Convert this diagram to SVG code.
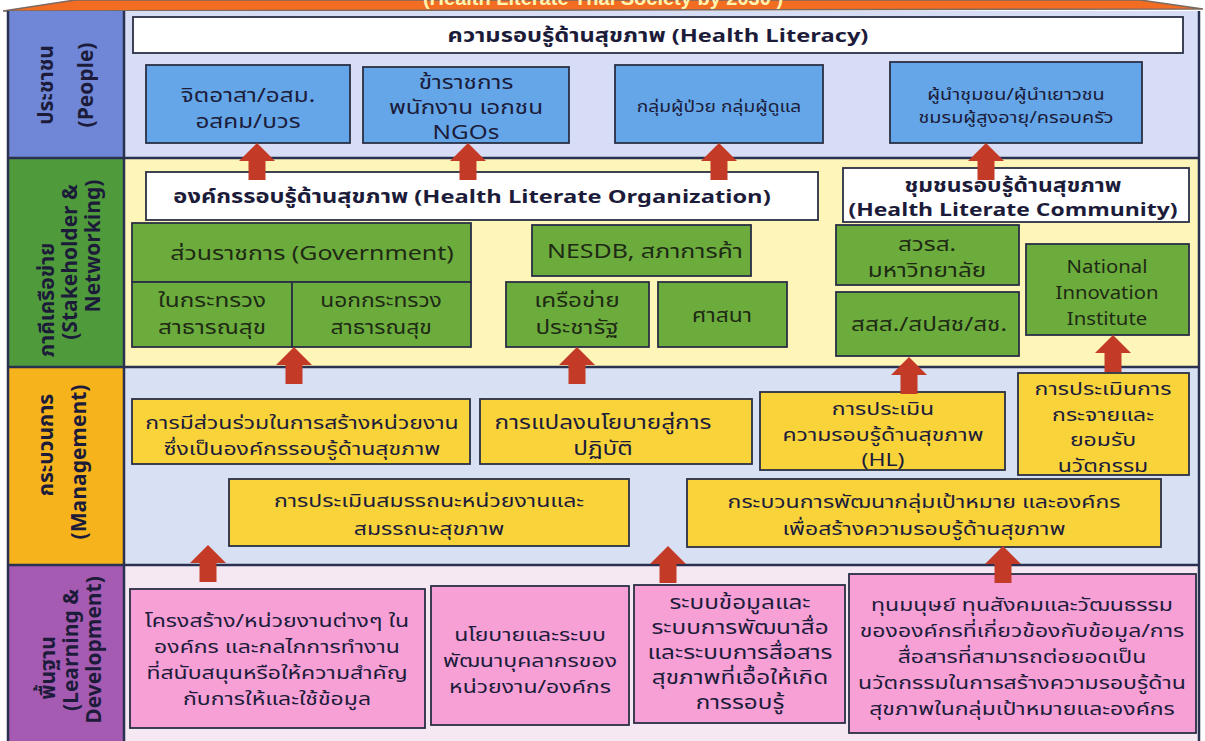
<svg xmlns="http://www.w3.org/2000/svg" width="1205" height="741" viewBox="0 0 1205 741">
<style>
text{font-family:"Noto Sans Thai","Tahoma","DejaVu Sans","Noto Sans",sans-serif;fill:#1c1c3a;text-anchor:middle}
.lab{font-weight:bold;font-size:21px;fill:#1c1c3a}
.hdr{font-weight:bold;font-size:18.5px}
.box{stroke:#2a2f45;stroke-width:1.8}
.wb{fill:#ffffff}
.bb{fill:#64a6e8}
.gb{fill:#6cac3d}
.yb{fill:#f8d33a}
.pb{fill:#f6a0d6}
.b19{font-size:19px}
.b15{font-size:15px}
.g{font-size:19px;fill:#1e2a14}
.y18{font-size:18px}
.p18{font-size:18px}
.arr{fill:#c33b26}
</style>
<defs>
<path id="up" d="M0,0 L-18,18 L-8.5,18 L-8.5,37 L8.5,37 L8.5,18 L18,18 Z"/>
</defs>
<!-- roof -->
<polygon points="3,11 75,0 1140,0 1203,9" fill="#f26c22" stroke="#7a6a60" stroke-width="1.5"/>
<text x="603" y="5" style="font-family:'Liberation Sans','DejaVu Sans',sans-serif;font-weight:bold;font-size:20px;fill:#fff4b0">(Health Literate Thai Society by 2030 )</text>
<!-- rows backgrounds -->
<g id="rows">
<rect x="8" y="11" width="116" height="147" fill="#6f87d6"/>
<rect x="124" y="11" width="1075" height="147" fill="#d6ddf5"/>
<rect x="8" y="158" width="116" height="209" fill="#4f9b3b"/>
<rect x="124" y="158" width="1075" height="209" fill="#fdf6b8"/>
<rect x="8" y="367" width="116" height="198" fill="#f6b31c"/>
<rect x="124" y="367" width="1075" height="198" fill="#d8e0f3"/>
<rect x="8" y="565" width="116" height="178" fill="#a55bb2"/>
<rect x="124" y="565" width="1075" height="178" fill="#f5e8f3"/>
<g stroke="#2a3050" stroke-width="2.5" fill="none">
<line x1="8" y1="158" x2="1199" y2="158"/>
<line x1="8" y1="367" x2="1199" y2="367"/>
<line x1="8" y1="565" x2="1199" y2="565"/>
<line x1="124" y1="11" x2="124" y2="741"/>
<line x1="8" y1="11" x2="8" y2="741"/>
<line x1="1199" y1="11" x2="1199" y2="741"/>
</g>
</g>
<!-- row labels -->
<g id="label-people"><text class="lab" transform="rotate(-90)"><tspan x="-85" y="53">ประชาชน</tspan><tspan x="-85" y="93">(People)</tspan></text></g>
<g id="label-stakeholder"><text class="lab" transform="rotate(-90)"><tspan x="-300" y="54">ภาคีเครือข่าย</tspan><tspan x="-262" y="77">(Stakeholder &amp;</tspan><tspan x="-246" y="100">Networking)</tspan></text></g>
<g id="label-management"><text class="lab" transform="rotate(-90)"><tspan x="-445" y="53">กระบวนการ</tspan><tspan x="-462" y="86">(Management)</tspan></text></g>
<g id="label-learning"><text class="lab" transform="rotate(-90)"><tspan x="-668" y="55">พื้นฐาน</tspan><tspan x="-650" y="78">(Learning &amp;</tspan><tspan x="-650" y="101">Development)</tspan></text></g>

<!-- People -->
<g id="hl"><rect class="box wb" x="133" y="17" width="1050" height="36"/><text class="hdr" transform="matrix(1.28 0 0 1 658 0)" y="42">ความรอบรู้ด้านสุขภาพ (Health Literacy)</text></g>
<g id="p1"><rect class="box bb" x="146" y="65" width="204" height="78"/><text class="b19" transform="matrix(1.28 0 0 1 248 0)"><tspan x="0" y="102">จิตอาสา/อสม.</tspan><tspan x="0" y="128">อสคม/บวร</tspan></text></g>
<g id="p2"><rect class="box bb" x="363" y="67" width="206" height="76"/><text class="b19" transform="matrix(1.28 0 0 1 466 0)"><tspan x="0" y="89">ข้าราชการ</tspan><tspan x="0" y="114">พนักงาน เอกชน</tspan><tspan x="0" y="139">NGOs</tspan></text></g>
<g id="p3"><rect class="box bb" x="615" y="65" width="208" height="78"/><text class="b15" transform="matrix(1.28 0 0 1 719 0)" y="112">กลุ่มผู้ป่วย กลุ่มผู้ดูแล</text></g>
<g id="p4"><rect class="box bb" x="890" y="62" width="252" height="81"/><text class="b15" transform="matrix(1.28 0 0 1 1016 0)" style="font-size:15.5px"><tspan x="0" y="100">ผู้นำชุมชน/ผู้นำเยาวชน</tspan><tspan x="0" y="123">ชมรมผู้สูงอายุ/ครอบครัว</tspan></text></g>

<!-- Stakeholder -->
<g id="hlo"><rect class="box wb" x="146" y="172" width="672" height="48"/><text class="hdr" transform="matrix(1.28 0 0 1 472 0)" y="203">องค์กรรอบรู้ด้านสุขภาพ (Health Literate Organization)</text></g>
<g id="hlc"><rect class="box wb" x="843" y="168" width="346" height="54"/><text class="hdr" transform="matrix(1.24 0 0 1 1013 0)"><tspan x="0" y="192">ชุมชนรอบรู้ด้านสุขภาพ</tspan><tspan x="0" y="216">(Health Literate Community)</tspan></text></g>
<g id="gov"><rect class="box gb" x="132" y="223" width="339" height="59"/><text class="g" transform="matrix(1.28 0 0 1 312 0)" y="260" style="font-size:19.5px">ส่วนราชการ (Government)</text></g>
<g id="gov-in"><rect class="box gb" x="132" y="282" width="160" height="65"/><text class="g" transform="matrix(1.28 0 0 1 212 0)"><tspan x="0" y="307">ในกระทรวง</tspan><tspan x="0" y="334">สาธารณสุข</tspan></text></g>
<g id="gov-out"><rect class="box gb" x="292" y="282" width="179" height="65"/><text class="g" transform="matrix(1.2 0 0 1 381 0)"><tspan x="0" y="307">นอกกระทรวง</tspan><tspan x="0" y="334">สาธารณสุข</tspan></text></g>
<g id="nesdb"><rect class="box gb" x="532" y="225" width="219" height="51"/><text class="g" transform="matrix(1.28 0 0 1 645 0)" y="258" style="font-size:19.5px">NESDB, สภาการค้า</text></g>
<g id="pracharat"><rect class="box gb" x="506" y="282" width="143" height="65"/><text class="g" transform="matrix(1.28 0 0 1 577 0)"><tspan x="0" y="307">เครือข่าย</tspan><tspan x="0" y="334">ประชารัฐ</tspan></text></g>
<g id="religion"><rect class="box gb" x="658" y="282" width="129" height="65"/><text class="g" transform="matrix(1.2 0 0 1 722 0)" y="322">ศาสนา</text></g>
<g id="hsri"><rect class="box gb" x="836" y="225" width="183" height="60"/><text class="g" transform="matrix(1.28 0 0 1 927 0)"><tspan x="0" y="251">สวรส.</tspan><tspan x="0" y="277">มหาวิทยาลัย</tspan></text></g>
<g id="thaihealth"><rect class="box gb" x="836" y="292" width="183" height="64"/><text class="g" transform="matrix(1.28 0 0 1 929 0)" y="331">สสส./สปสช/สช.</text></g>
<g id="nia"><rect class="box gb" x="1026" y="244" width="163" height="91"/><text class="g" transform="matrix(1.07 0 0 1 1107 0)"><tspan x="0" y="273">National</tspan><tspan x="0" y="299">Innovation</tspan><tspan x="0" y="325">Institute</tspan></text></g>

<!-- Management -->
<g id="m1"><rect class="box yb" x="132" y="399" width="338" height="65"/><text class="y18" transform="matrix(1.28 0 0 1 302 0)"><tspan x="0" y="429">การมีส่วนร่วมในการสร้างหน่วยงาน</tspan><tspan x="0" y="455">ซึ่งเป็นองค์กรรอบรู้ด้านสุขภาพ</tspan></text></g>
<g id="m2"><rect class="box yb" x="480" y="399" width="272" height="65"/><text class="y18" transform="matrix(1.28 0 0 1 603 0)" style="font-size:19px"><tspan x="0" y="429">การแปลงนโยบายสู่การ</tspan><tspan x="0" y="455">ปฏิบัติ</tspan></text></g>
<g id="m3"><rect class="box yb" x="760" y="392" width="245" height="78"/><text class="y18" transform="matrix(1.28 0 0 1 883 0)"><tspan x="0" y="415">การประเมิน</tspan><tspan x="0" y="441">ความรอบรู้ด้านสุขภาพ</tspan><tspan x="0" y="466">(HL)</tspan></text></g>
<g id="m4"><rect class="box yb" x="1018" y="373" width="171" height="102"/><text class="y18" transform="matrix(1.28 0 0 1 1103 0)"><tspan x="0" y="395">การประเมินการ</tspan><tspan x="0" y="421">กระจายและ</tspan><tspan x="0" y="446">ยอมรับ</tspan><tspan x="0" y="472">นวัตกรรม</tspan></text></g>
<g id="m5"><rect class="box yb" x="229" y="479" width="400" height="67"/><text class="y18" transform="matrix(1.28 0 0 1 429 0)"><tspan x="0" y="507">การประเมินสมรรถนะหน่วยงานและ</tspan><tspan x="0" y="535">สมรรถนะสุขภาพ</tspan></text></g>
<g id="m6"><rect class="box yb" x="687" y="479" width="474" height="68"/><text class="y18" transform="matrix(1.28 0 0 1 924 0)"><tspan x="0" y="508">กระบวนการพัฒนากลุ่มเป้าหมาย และองค์กร</tspan><tspan x="0" y="535">เพื่อสร้างความรอบรู้ด้านสุขภาพ</tspan></text></g>

<!-- Learning -->
<g id="l1"><rect class="box pb" x="130" y="589" width="295" height="139"/><text class="p18" transform="matrix(1.28 0 0 1 277 0)"><tspan x="0" y="627">โครงสร้าง/หน่วยงานต่างๆ ใน</tspan><tspan x="0" y="653">องค์กร และกลไกการทำงาน</tspan><tspan x="0" y="679">ที่สนับสนุนหรือให้ความสำคัญ</tspan><tspan x="0" y="705">กับการให้และใช้ข้อมูล</tspan></text></g>
<g id="l2"><rect class="box pb" x="431" y="586" width="198" height="139"/><text class="p18" transform="matrix(1.28 0 0 1 530 0)"><tspan x="0" y="641">นโยบายและระบบ</tspan><tspan x="0" y="667">พัฒนาบุคลากรของ</tspan><tspan x="0" y="693">หน่วยงาน/องค์กร</tspan></text></g>
<g id="l3"><rect class="box pb" x="634" y="585" width="211" height="138"/><text class="p18" transform="matrix(1.28 0 0 1 740 0)" style="font-size:19px"><tspan x="0" y="609">ระบบข้อมูลและ</tspan><tspan x="0" y="634">ระบบการพัฒนาสื่อ</tspan><tspan x="0" y="659">และระบบการสื่อสาร</tspan><tspan x="0" y="684">สุขภาพที่เอื้อให้เกิด</tspan><tspan x="0" y="709">การรอบรู้</tspan></text></g>
<g id="l4"><rect class="box pb" x="849" y="574" width="347" height="159"/><text class="p18" transform="matrix(1.28 0 0 1 1022 0)"><tspan x="0" y="611">ทุนมนุษย์ ทุนสังคมและวัฒนธรรม</tspan><tspan x="0" y="637">ขององค์กรที่เกี่ยวข้องกับข้อมูล/การ</tspan><tspan x="0" y="663">สื่อสารที่สามารถต่อยอดเป็น</tspan><tspan x="0" y="689">นวัตกรรมในการสร้างความรอบรู้ด้าน</tspan><tspan x="0" y="715">สุขภาพในกลุ่มเป้าหมายและองค์กร</tspan></text></g>

<!-- connectors -->
<g id="connectors" class="arr">
<use href="#up" x="257" y="143"/>
<use href="#up" x="468" y="143"/>
<use href="#up" x="719" y="143"/>
<use href="#up" x="986" y="143"/>
<use href="#up" x="294" y="347"/>
<use href="#up" x="577" y="347"/>
<use href="#up" x="909" y="357"/>
<use href="#up" x="1113" y="335"/>
<use href="#up" x="208" y="545"/>
<use href="#up" x="668" y="546"/>
<use href="#up" x="1003" y="546"/>
</g>
</svg>
